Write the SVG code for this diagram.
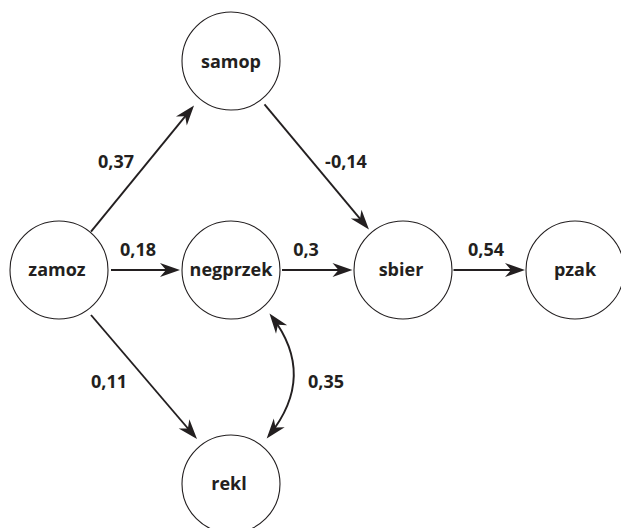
<svg xmlns="http://www.w3.org/2000/svg" width="621" height="528" viewBox="0 0 621 528">
<style>
.node ellipse{fill:#fff;stroke:#231f20;stroke-width:1.1}
text{font-family:"Open Sans","Liberation Sans",sans-serif;font-weight:700;font-size:18px;fill:#231f20;text-anchor:middle}
.edge{fill:none;stroke:#231f20;stroke-width:1.9}
</style>
<defs>
<marker id="arr" viewBox="-21 -8 22 16" markerWidth="22" markerHeight="16" refX="-4" refY="0" markerUnits="userSpaceOnUse" orient="auto-start-reverse">
<path d="M0,0 L-20,-7 L-14,0 L-20,7 Z" fill="#231f20"/>
</marker>
</defs>
<g id="connectors">
<path class="edge" d="M91,231.6 L191.5,108.6" marker-end="url(#arr)"/>
<path class="edge" d="M264.5,104.4 L366.4,226.4" marker-end="url(#arr)"/>
<path class="edge" d="M111,270 L176,270" marker-end="url(#arr)"/>
<path class="edge" d="M282,270 L348.5,270" marker-end="url(#arr)"/>
<path class="edge" d="M453.5,270 L521,270" marker-end="url(#arr)"/>
<path class="edge" d="M91,315 L194.4,436" marker-end="url(#arr)"/>
<path class="edge" d="M271.9,316.7 Q317,376 269.2,435.4" marker-start="url(#arr)" marker-end="url(#arr)"/>
<text x="116" y="168">0,37</text>
<text x="346" y="168">-0,14</text>
<text x="138" y="256">0,18</text>
<text x="306" y="256">0,3</text>
<text x="486" y="256">0,54</text>
<text x="109" y="388">0,11</text>
<text x="326" y="388">0,35</text>
</g>
<g id="samop" class="node"><ellipse cx="231" cy="61" rx="49" ry="49"/><text x="231" y="68">samop</text></g>
<g id="zamoz" class="node"><ellipse cx="59" cy="270" rx="49" ry="49"/><text x="57" y="276">zamoz</text></g>
<g id="negprzek" class="node"><ellipse cx="231" cy="270" rx="49" ry="49"/><text x="231" y="276">negprzek</text></g>
<g id="sbier" class="node"><ellipse cx="403" cy="270" rx="49" ry="49"/><text x="401" y="276">sbier</text></g>
<g id="pzak" class="node"><ellipse cx="575" cy="270" rx="49" ry="49"/><text x="575" y="276">pzak</text></g>
<g id="rekl" class="node"><ellipse cx="231" cy="484" rx="49" ry="49"/><text x="229" y="490">rekl</text></g>
</svg>
